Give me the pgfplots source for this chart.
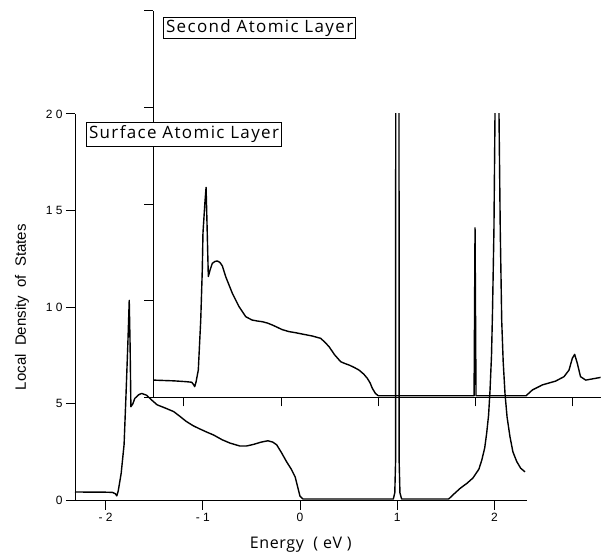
\documentclass[border=0pt]{standalone}
\usepackage{fontspec}
\setmainfont{Liberation Sans}
\newfontfamily\boxfont[LetterSpace=8]{Open Sans}
\newfontfamily\xlfont[LetterSpace=4]{Open Sans}
\usepackage{pgfplots}
\pgfplotsset{compat=1.18}

\pgfplotsset{ldos/.style={
    x=97.2pt, y=19.33pt,
    xmin=-2.315, ymin=0, ymax=20,
    axis lines*=left,
    tick align=outside,
    major tick length=9pt,
    axis line style={line width=0.9pt},
    every tick/.style={line width=0.9pt, black},
    xtick={-2,-1,0,1,2}, ytick={0,5,10,15,20},
    tick label style={font=\fontsize{12}{14}\selectfont},
    /pgf/number format/assume math mode=true,
},
curve/.style={black, line width=1.4pt, mark=none, line join=round}}

\begin{document}
\begin{tikzpicture}
\useasboundingbox (-75pt,-53.5pt) rectangle (526pt,500.5pt);

% surface layer
\begin{axis}[ldos, at={(0,0)}, anchor=south west, xmax=2.33,
    xticklabels={- 2,- 1,0,1,2},
    yticklabels={0,5,1 0,1 5,2 0},
    xlabel={\xlfont\fontsize{16}{18}\selectfont Energy \ ( eV )},
    ylabel={\fontsize{15}{17}\selectfont Local\ \ Density\ \ of\ \ States},
    xlabel shift=9pt, ylabel shift=10pt,
]
\addplot[curve] coordinates {
(-2.315,0.44) (-2.0,0.43) (-1.93,0.42) (-1.90,0.35) (-1.885,0.24) (-1.87,0.5)
(-1.84,1.4) (-1.81,2.9) (-1.79,5.5) (-1.77,8.3) (-1.757,10.35) (-1.748,8.0)
(-1.74,4.85) (-1.72,5.0) (-1.70,5.28) (-1.66,5.47) (-1.63,5.54) (-1.58,5.45)
(-1.52,5.17) (-1.47,4.95) (-1.38,4.77) (-1.30,4.6) (-1.24,4.37) (-1.17,4.09)
(-1.10,3.87) (-1.03,3.7) (-0.96,3.54) (-0.89,3.39) (-0.80,3.14) (-0.72,2.97)
(-0.62,2.82) (-0.55,2.82) (-0.48,2.9) (-0.40,3.02) (-0.33,3.09) (-0.28,3.02)
(-0.24,2.88) (-0.19,2.47) (-0.14,2.02) (-0.09,1.62) (-0.05,1.22) (-0.02,0.62)
(0.0,0.22) (0.03,0.08) (0.96,0.08) (0.975,0.4) (0.983,2) (0.985,25)
(1.018,25) (1.020,2) (1.028,0.4) (1.045,0.08) (1.53,0.08) (1.58,0.32)
(1.65,0.64) (1.72,0.9) (1.78,1.17) (1.84,1.62) (1.87,2.09) (1.90,2.72)
(1.92,3.47) (1.94,4.42) (1.955,5.72) (1.97,7.5) (1.98,9.7) (1.995,14)
(2.006,20) (2.012,25) (2.042,25) (2.047,20) (2.06,14) (2.075,9.3)
(2.09,7.2) (2.109,5.52) (2.13,4.32) (2.16,3.3) (2.19,2.52) (2.229,2.02)
(2.27,1.67) (2.315,1.48)
};
\end{axis}

% second layer
\begin{axis}[ldos, at={(78.3pt,103.2pt)}, anchor=south west, xmax=2.288,
    xticklabels={}, yticklabels={},
]
\addplot[curve] coordinates {
(-2.315,0.89) (-2.1,0.85) (-1.98,0.81) (-1.92,0.78) (-1.90,0.65) (-1.889,0.55)
(-1.875,0.8) (-1.852,1.41) (-1.827,4.0) (-1.811,6.6) (-1.804,8.5) (-1.785,10.0)
(-1.772,10.86) (-1.765,9.5) (-1.749,6.25) (-1.73,6.6) (-1.708,6.93) (-1.68,7.03)
(-1.656,7.05) (-1.63,6.98) (-1.605,6.8) (-1.57,6.24) (-1.535,5.8) (-1.502,5.38)
(-1.433,4.69) (-1.364,4.17) (-1.30,4.0) (-1.25,3.95) (-1.193,3.91) (-1.14,3.84)
(-1.09,3.74) (-0.988,3.5) (-0.92,3.4) (-0.85,3.34) (-0.76,3.25) (-0.679,3.17)
(-0.593,3.05) (-0.55,2.85) (-0.507,2.62) (-0.45,2.2) (-0.387,1.84) (-0.34,1.74)
(-0.301,1.67) (-0.25,1.55) (-0.199,1.41) (-0.15,1.2) (-0.113,0.98) (-0.085,0.75)
(-0.062,0.47) (-0.03,0.2) (0.0,0.08) (0.985,0.08) (0.995,8.77) (1.005,0.08)
(1.52,0.08) (1.585,0.38) (1.687,0.64) (1.825,0.84) (1.911,1.07) (1.962,1.41)
(1.996,2.02) (2.02,2.22) (2.047,1.76) (2.08,1.07) (2.134,0.89) (2.2,0.95)
(2.288,1.03)
};
\end{axis}

\node[draw, line width=1pt, fill=white, anchor=north west, inner xsep=2.5pt, inner ysep=3.5pt,
  font=\boxfont\fontsize{17}{19}\selectfont] at (11pt,378.8pt) {Surface Atomic Layer};
\node[draw, line width=1pt, fill=white, anchor=north west, inner xsep=2.5pt, inner ysep=2pt,
  font=\boxfont\fontsize{17}{19}\selectfont] at (88pt,483pt) {Second Atomic Layer};
\end{tikzpicture}
\end{document}
